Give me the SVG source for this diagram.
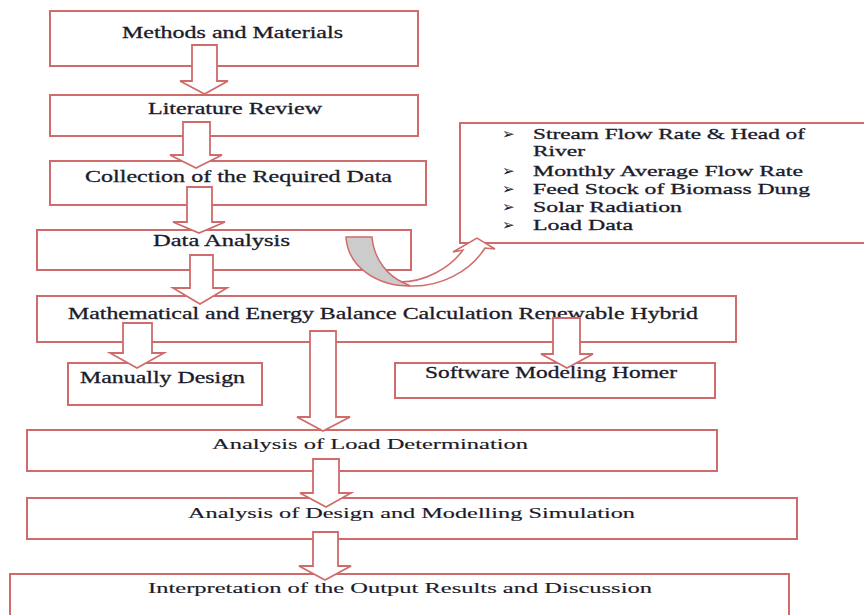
<svg xmlns="http://www.w3.org/2000/svg" width="864" height="615" viewBox="0 0 864 615">
<style>
.box{fill:#ffffff;stroke:#cf6b6a;stroke-width:2}
.arr{fill:#ffffff;stroke:#cf6b6a;stroke-width:1.8;stroke-linejoin:miter}
.t{font-family:"Liberation Serif","Times New Roman",serif;font-size:16.5px;fill:#1b1b2a;stroke:#1b1b2a;stroke-width:0.3}
.s{font-size:15.5px;stroke-width:0.15}
.l{font-size:15px}
.b{font-family:"DejaVu Sans",sans-serif;font-size:15px;font-weight:bold;fill:#1b1b2a}
</style>
<rect width="864" height="615" fill="#ffffff"/>
<g id="n1"><rect class="box" x="50" y="11" width="368" height="55"/><text class="t" x="122" y="38" textLength="221" lengthAdjust="spacingAndGlyphs">Methods and Materials</text></g>
<g id="n2"><rect class="box" x="50" y="95" width="368" height="41"/><text class="t" x="148" y="114" textLength="174" lengthAdjust="spacingAndGlyphs">Literature Review</text></g>
<g id="n3"><rect class="box" x="50" y="161" width="376" height="44"/><text class="t" x="85" y="182" textLength="307" lengthAdjust="spacingAndGlyphs">Collection of the Required Data</text></g>
<g id="n4"><rect class="box" x="37" y="230" width="374" height="40"/><text class="t" x="153" y="246" textLength="137" lengthAdjust="spacingAndGlyphs">Data Analysis</text></g>
<g id="n5"><rect class="box" x="460" y="123" width="410" height="120"/>
<text class="b" x="502" y="139">➢</text><text class="t l" x="533" y="139" textLength="272" lengthAdjust="spacingAndGlyphs">Stream  Flow Rate &amp; Head of</text>
<text class="t l" x="533" y="156" textLength="52" lengthAdjust="spacingAndGlyphs">River</text>
<text class="b" x="502" y="176">➢</text><text class="t l" x="533" y="176" textLength="270" lengthAdjust="spacingAndGlyphs">Monthly Average Flow Rate</text>
<text class="b" x="502" y="194">➢</text><text class="t l" x="533" y="194" textLength="277" lengthAdjust="spacingAndGlyphs">Feed Stock of Biomass Dung</text>
<text class="b" x="502" y="212">➢</text><text class="t l" x="533" y="212" textLength="149" lengthAdjust="spacingAndGlyphs">Solar Radiation</text>
<text class="b" x="502" y="230">➢</text><text class="t l" x="533" y="230" textLength="100" lengthAdjust="spacingAndGlyphs">Load Data</text>
</g>
<g id="n6"><rect class="box" x="37" y="296" width="699" height="46"/><text class="t" x="68" y="319" textLength="630" lengthAdjust="spacingAndGlyphs">Mathematical and Energy Balance Calculation Renewable Hybrid</text></g>
<g id="n7"><rect class="box" x="68" y="363" width="194" height="42"/><text class="t" x="80" y="383" textLength="165" lengthAdjust="spacingAndGlyphs">Manually Design</text></g>
<g id="n8"><rect class="box" x="395" y="363" width="320" height="35"/><text class="t" x="425" y="378" textLength="252" lengthAdjust="spacingAndGlyphs">Software Modeling Homer</text></g>
<g id="n9"><rect class="box" x="27" y="430" width="690" height="41"/><text class="t s" x="212" y="449" textLength="316" lengthAdjust="spacingAndGlyphs">Analysis of Load Determination</text></g>
<g id="n10"><rect class="box" x="27" y="498" width="770" height="41"/><text class="t s" x="188" y="518" textLength="447" lengthAdjust="spacingAndGlyphs">Analysis of Design and Modelling Simulation</text></g>
<g id="n11"><rect class="box" x="10" y="574" width="779" height="50"/><text class="t s" x="148" y="593" textLength="504" lengthAdjust="spacingAndGlyphs">Interpretation of the Output Results and Discussion</text></g>
<g id="connectors">
<path class="arr" d="M192,45 L217,45 L217,81 L228,81 L204.5,94 L180,81 L192,81 Z"/>
<path class="arr" d="M183,122 L210,122 L210,155 L222,155 L196,168 L170,155 L183,155 Z"/>
<path class="arr" d="M187,187 L212,187 L212,222 L225,222 L199,233 L173,222 L187,222 Z"/>
<path class="arr" d="M190,255 L213,255 L213,288 L227,288 L200,304 L173,288 L190,288 Z"/>
<path class="arr" d="M123,323 L152,323 L152,353 L164,353 L137,368 L110,353 L123,353 Z"/>
<path class="arr" d="M310,331 L336,331 L336,417 L350,417 L323,431 L297,417 L310,417 Z"/>
<path class="arr" d="M553,318 L580,318 L580,354 L593,354 L567,368 L541,354 L553,354 Z"/>
<path class="arr" d="M313,459 L339,459 L339,493 L351,493 L326,507 L300,493 L313,493 Z"/>
<path class="arr" d="M313,532 L338,532 L338,566 L351,566 L325,580 L299,566 L313,566 Z"/>
<path d="M400,282 C425,282 450,268 463,250 L453,252 L477,238 L495,249 L485,248 C470,272 440,287 410,286 Z" fill="#ffffff" stroke="#cf6b6a" stroke-width="1.5" stroke-linejoin="miter"/>
<path d="M346,237 L372,237 C374,260 388,276 404,283 L410,286 C378,286 348,268 346,237 Z" fill="#cccccc" stroke="#cf6b6a" stroke-width="1.5"/>
</g>
</svg>
